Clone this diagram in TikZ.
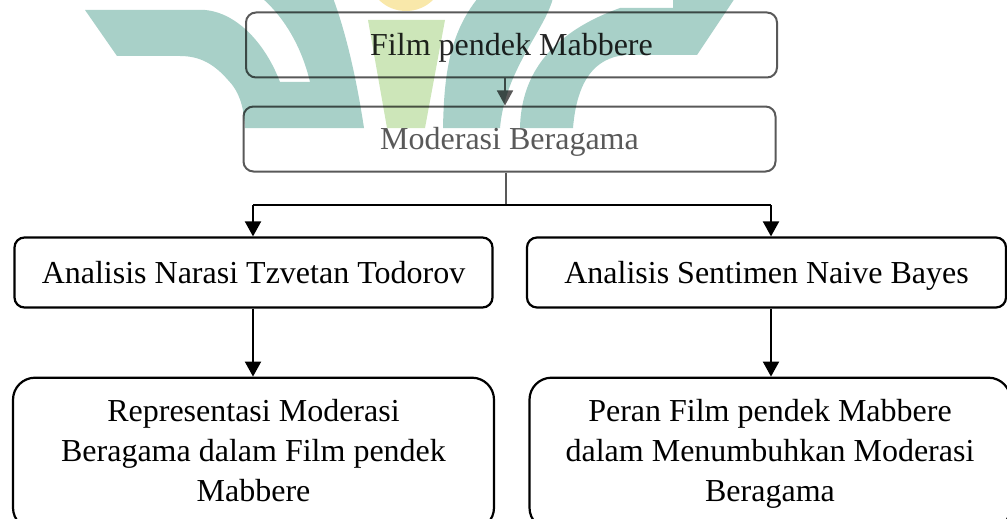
\documentclass[tikz,border=0pt]{standalone}
\usepackage{fontspec}
\setmainfont{Liberation Serif}
\usetikzlibrary{positioning,arrows.meta}
\definecolor{boxgray}{RGB}{89,89,89}
\definecolor{logoteal}{RGB}{168,208,200}
\definecolor{logogreen}{RGB}{205,230,185}
\definecolor{logoyellow}{RGB}{249,232,170}

\begin{document}
\begin{tikzpicture}[
    x=1pt, y=-1pt,
    box/.style={rounded corners=10pt, text height=21pt, text depth=0pt,
      font=\fontsize{32}{40}\selectfont},
    topbox/.style={box, draw=boxgray, line width=2pt, minimum height=65pt},
    method/.style={box, draw, line width=2.2pt, minimum height=70pt},
    result/.style={draw, line width=2.2pt, rounded corners=22pt, align=center,
      minimum width=481pt, minimum height=152pt, font=\fontsize{32}{40}\selectfont,
      execute at begin node={\rule{0pt}{36pt}}, execute at end node={\vphantom{g}}},
    >={Triangle[length=15pt,width=16pt]}
  ]
  \useasboundingbox (0,0) rectangle (1007,519);

  \node[topbox, minimum width=531pt, text=black!85] (film) at (511.5,45) {Film pendek Mabbere};
  \node[topbox, minimum width=532pt, text=boxgray, below=27pt of film, xshift=-2pt] (mod) {Moderasi Beragama};

  \node[method, minimum width=478pt] (narasi) at (253.5,272.5) {Analisis Narasi Tzvetan Todorov};
  \node[method, minimum width=479pt] (sentimen) at (766.5,272.5) {Analisis Sentimen Naive Bayes};

  \node[result, below=68pt of narasi] (repr) {Representasi Moderasi\\Beragama dalam Film pendek\\Mabbere};
  \node[result, below=68pt of sentimen, xshift=3.5pt] (peran) {Peran Film pendek Mabbere\\dalam Menumbuhkan Moderasi\\Beragama};

  % junctions
  \coordinate (jt) at (505,0);
  \coordinate (split) at (506,205);
  \coordinate (jl) at (253,205);
  \coordinate (jr) at (771,205);

  \draw[->, boxgray, line width=1.6pt] (jt |- film.south) -- (jt |- mod.north);
  \draw[boxgray, line width=1.6pt] (split |- mod.south) -- (split);
  \draw[line width=2pt] (jl) -- (jr);
  \draw[->, line width=2pt] (jl) -- (jl |- narasi.north);
  \draw[->, line width=2pt] (jr) -- (jr |- sentimen.north);
  \draw[->, line width=2pt] (jl |- narasi.south) -- (jl |- repr.north);
  \draw[->, line width=2pt] (jr |- sentimen.south) -- (jr |- peran.north);

  % logo behind the text
  \begin{scope}[blend mode=multiply]
    \fill[logoyellow] (406,-22) ellipse [x radius=36, y radius=33];
    \fill[logogreen] (368,20) -- (445,20) -- (425,128) -- (387,128) -- cycle;
    \fill[logoteal] (85,10) -- (205,10) .. controls (238,13) and (266,45) .. (280,82)
      -- (310,82) .. controls (302,48) and (285,18) .. (262,-2) -- (333,-2)
      .. controls (345,30) and (356,75) .. (364,128) -- (245,128)
      .. controls (244,105) and (238,90) .. (228,80) .. controls (214,64) and (200,56) .. (180,56)
      -- (117,56) -- cycle;
    \fill[logoteal] (478,-2) -- (553,-2) .. controls (545,30) and (505,70) .. (500,128)
      -- (443,128) .. controls (444,80) and (448,35) .. (478,-2) -- cycle;
    \fill[logoteal] (620,8) -- (673,8) -- (673,-2) -- (735,-2) -- (697,55) -- (625,55)
      .. controls (595,58) and (577,80) .. (573,128) -- (520,128)
      .. controls (521,80) and (545,35) .. (620,8) -- cycle;
  \end{scope}
\end{tikzpicture}
\end{document}
